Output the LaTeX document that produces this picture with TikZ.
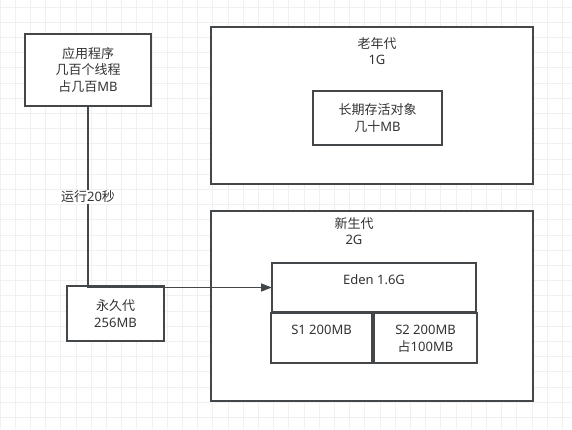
\documentclass[tikz,border=0pt]{standalone}
\usepackage{fontspec}
\setmainfont{Noto Sans}
\newfontfamily\cjk{Noto Sans CJK SC}
\usetikzlibrary{arrows.meta, positioning}
\definecolor{edgegray}{RGB}{68,71,74}
\definecolor{textgray}{RGB}{51,51,51}
\definecolor{gridgray}{RGB}{240,240,240}

\begin{document}
\begin{tikzpicture}[x=1pt, y=-1pt,
  box/.style={draw=edgegray, line width=1.5pt, fill=white, inner sep=0pt, outer sep=0pt, align=center, text=textgray},
  txt/.style={inner sep=0pt, align=center, text=textgray},
  conn/.style={draw=edgegray, line width=1.5pt, -{Triangle[length=11pt, width=8pt]}},
  gridline/.style={draw=gridgray, line width=1pt}]
  \useasboundingbox (0,0) rectangle (572,429);
  \fill[white] (0,0) rectangle (572,429);
  % background grid
  \foreach \gx in {0,...,37} \draw[gridline] ({\gx*15.2},0) -- ({\gx*15.2},429);
  \foreach \gy in {0,...,28} \draw[gridline] (0,{7+\gy*15.2}) -- (572,{7+\gy*15.2});

  \begin{scope}[font=\fontsize{13pt}{16.7pt}\selectfont]
  % application and permanent generation
  \node[box, minimum width=126pt, minimum height=72pt] (app) at (88,70) {{\cjk 应用程序}\\{\cjk 几百个线程}\\{\cjk 占几百}MB};
  \node[box, minimum width=97pt, minimum height=55pt] (perm) at (115.5,313.5) {{\cjk 永久代}\\256MB};

  % old generation
  \node[box, minimum width=322pt, minimum height=157pt] (old) at (372,105.5) {};
  \node[txt] (oldtxt) at (377,51) {{\cjk 老年代}\\1G};
  \node[box, minimum width=129pt, minimum height=54pt] (longobj) at (377.5,118) {{\cjk 长期存活对象}\\{\cjk 几十}MB};

  % young generation
  \node[box, minimum width=322pt, minimum height=190pt] (young) at (372,306) {};
  \node[txt] (youngtxt) at (354,231) {{\cjk 新生代}\\2G};
  \node[box, minimum width=204pt, minimum height=49pt] (eden) at (374,287.5) {};
  \node[txt] (edentxt) at (374,280) {Eden 1.6G};
  \node[box, minimum width=101pt, minimum height=50pt] (sone) at (321.5,338) {};
  \node[txt] (sonetxt) at (321.5,330) {S1 200MB};
  \node[box, minimum width=103pt, minimum height=50pt] (stwo) at (425.5,338) {};
  \node[txt] (stwotxt) at (425.5,338.5) {S2 200MB\\{\cjk 占}100MB};

  \draw[conn] (app.south) |- (eden.west)
    node[pos=0.25, fill=white, inner sep=1pt, text=textgray] (runlbl) {{\cjk 运行}20{\cjk 秒}};
  \end{scope}
\end{tikzpicture}
\end{document}
